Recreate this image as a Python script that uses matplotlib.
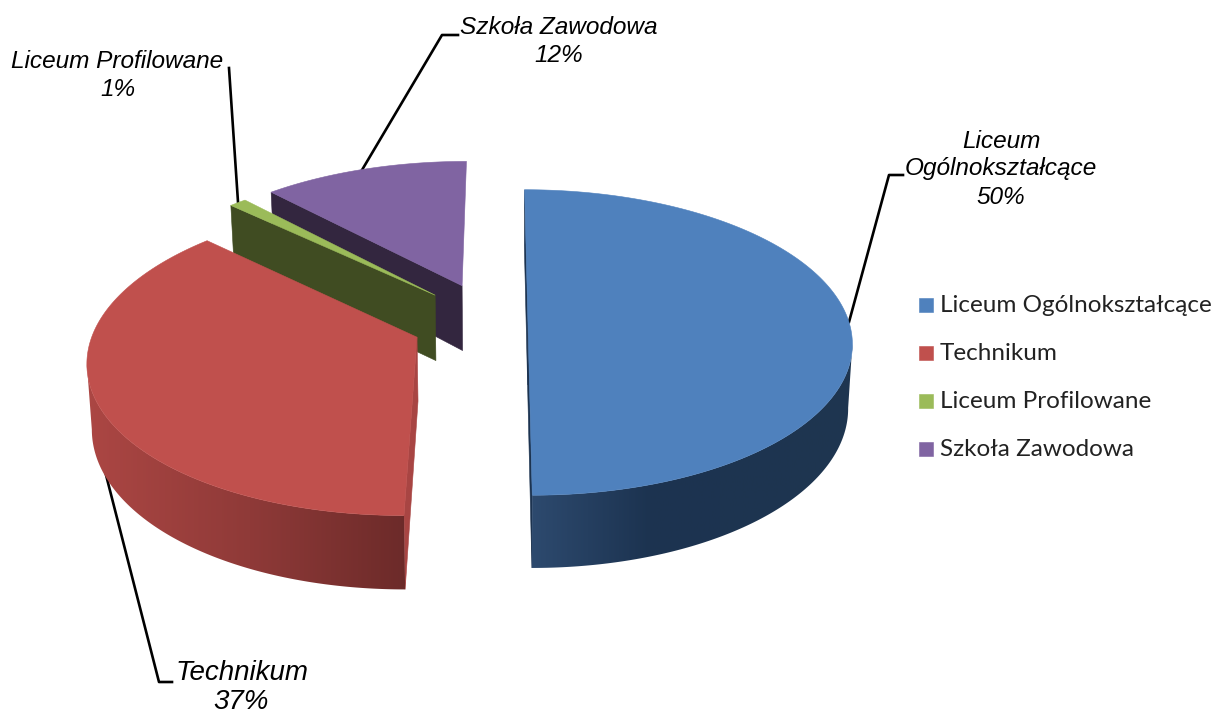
import numpy as np
import matplotlib
matplotlib.use('Agg')
import matplotlib.pyplot as plt
import matplotlib.colors as mcolors
from matplotlib.patches import Polygon, Rectangle

# Data
labels = ['Liceum Ogólnokształcące', 'Technikum', 'Liceum Profilowane', 'Szkoła Zawodowa']
shares = [50, 37, 1, 12]

top_colors = ['#4f81bd', '#c0504d', '#9bbb59', '#8064a2']
cut_colors = ['#1c3350', '#a84543', '#404c22', '#33263f']

# Perspective of the pie (pixels of the picture)
VX, CY = 500, 322
RX, RY = 321, 150
K = 0.134
SHRINK = 0.988
depths = [63, 63, 67, 67]
explode = [(0.087, 0.0), (-0.255, -0.10), (-0.207, 0.183), (-0.122, 0.25)]

# Colour of the outer wall along x, only blue and red show one
rim_stops = {
    0: ([525, 650, 860], ['#2e4b70', '#1c3350', '#1f3650']),
    1: ([80, 250, 412], ['#ad4744', '#8f3a38', '#6b2a29']),
}


def project(r, t, ou, ov, depth):
    wx = ou + r * np.cos(t)
    wy = ov + r * np.sin(t)
    den = 1 + K * wy
    x = VX + RX * wx / den
    y = CY - RY * wy / den
    xb = VX + (x - VX) * SHRINK
    yb = y + depth / den
    return x, y, xb, yb


fig = plt.figure(figsize=(12.15, 7.13), dpi=100)
ax = fig.add_axes([0, 0, 1, 1])

# Leader lines
leaders = [
    ([849, 889, 903], [322, 175, 175]),
    ([105, 159, 172], [471, 682, 682]),
    ([238, 229], [202, 68]),
    ([362, 442, 458], [170, 35, 35]),
]
for xs, ys in leaders:
    ax.plot(xs, ys, color='black', lw=1.9, zorder=1)

# Slices, far ones first
fractions = np.array(shares) / sum(shares)
edges = np.pi / 2 - 2 * np.pi * np.concatenate([[0], np.cumsum(fractions)])
cut_edges = [[edges[0], edges[1]], [edges[1]], [edges[2]], [edges[3]]]

z = 2
for i in [3, 2, 1, 0]:
    ou, ov = explode[i]
    d = depths[i]
    t = np.linspace(edges[i], edges[i + 1], 300)
    x, y, xb, yb = project(1, t, ou, ov, d)
    ax0, ay0, abx, aby = project(0, 0, ou, ov, d)

    # cut faces
    for te in cut_edges[i]:
        ex, ey, ebx, eby = project(1, te, ou, ov, d)
        ax.add_patch(Polygon([(ax0, ay0), (abx, aby), (ebx, eby), (ex, ey)],
                             fc=cut_colors[i], ec=cut_colors[i], lw=0.4, zorder=z))

    # outer wall with a gradient along x, from the silhouette point on
    if i in rim_stops:
        xs, cols = rim_stops[i]
        cmap = mcolors.LinearSegmentedColormap.from_list(
            'rim', [((v - xs[0]) / (xs[-1] - xs[0]), c) for v, c in zip(xs, cols)])
        k = np.argmax(np.abs(x - VX))
        # the red arc runs towards the silhouette, the blue one away from it
        sel = slice(k, None) if i == 0 else slice(0, k + 1)
        wall = np.column_stack([np.r_[x[sel], xb[sel][::-1]], np.r_[y[sel], yb[sel][::-1]]])
        grad = np.linspace(0, 1, 256).reshape(1, -1)
        im = ax.imshow(grad, cmap=cmap, extent=(xs[0], xs[-1], 620, 200), aspect='auto',
                       interpolation='bilinear', zorder=z)
        im.set_clip_path(Polygon(wall, transform=ax.transData))

    # top surface
    pts = [(ax0, ay0)] + list(zip(x, y))
    ax.add_patch(Polygon(pts, fc=top_colors[i], ec=top_colors[i], lw=0.4, zorder=z + 0.5))
    z += 1

ax.set_xlim(0, 1215)
ax.set_ylim(713, 0)
ax.axis('off')

# Data labels
lab_font = dict(family='Liberation Sans', style='italic', fontsize=17.6,
                ha='center', va='center', color='black')
ax.text(1001, 141, 'Liceum', **lab_font)
ax.text(1001, 169, 'Ogólnokształcące', **lab_font)
ax.text(1001, 198, f'{shares[0]}%', **lab_font)
ax.text(242, 673, labels[1], **{**lab_font, 'fontsize': 20})
ax.text(241, 702, f'{shares[1]}%', **{**lab_font, 'fontsize': 20})
ax.text(117, 61, labels[2], **lab_font)
ax.text(118, 89, f'{shares[2]}%', **lab_font)
ax.text(559, 28, labels[3], **lab_font)
ax.text(559, 56, f'{shares[3]}%', **lab_font)

# Legend
legend_y = [305, 353, 401, 449]
for lab, col, ly in zip(labels, top_colors, legend_y):
    ax.add_patch(Rectangle((919, ly - 7), 14, 14, fc=col, ec=col, lw=0.4, zorder=5))
    ax.text(940, ly + 1, lab, family='Lato', fontsize=17.45, va='center', ha='left', color='#222222')

plt.savefig('out.png', dpi=100)
plt.close()
